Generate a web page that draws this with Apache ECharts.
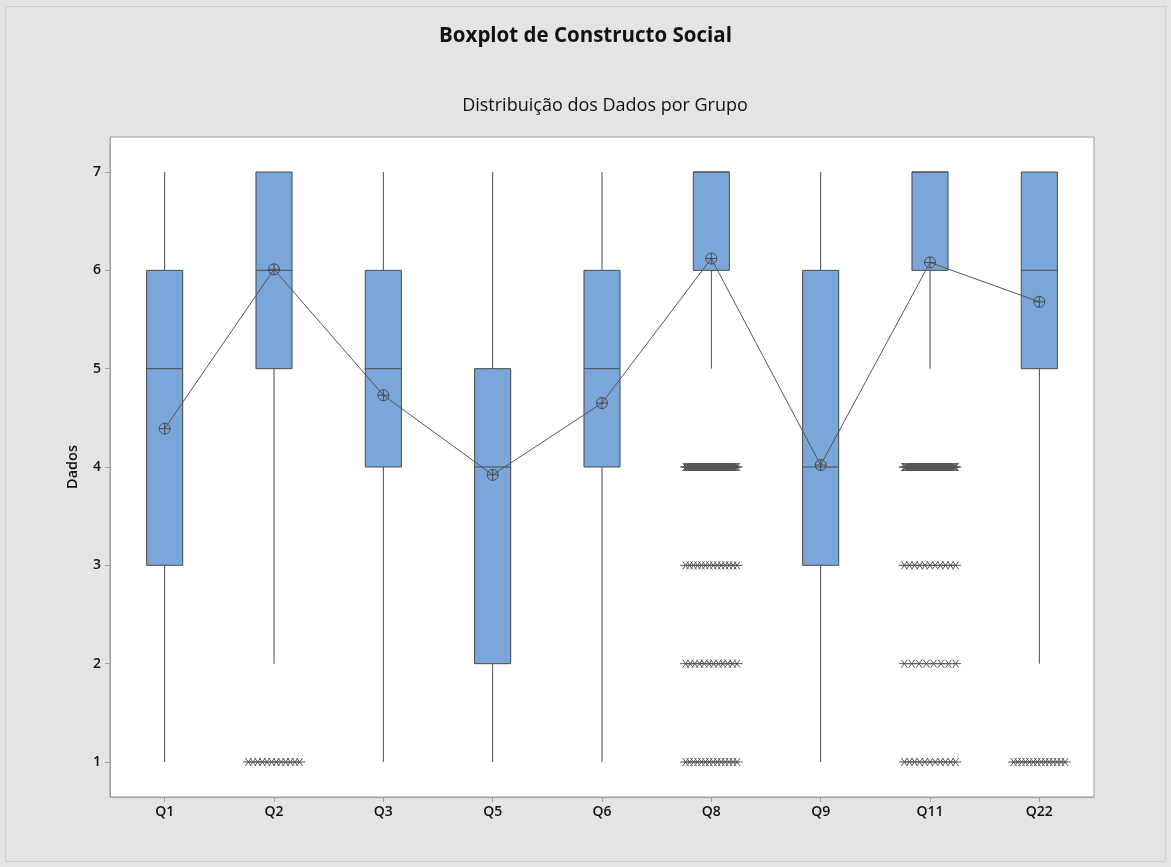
<!DOCTYPE html>
<html>
<head>
<meta charset="utf-8">
<script src="https://cdn.jsdelivr.net/npm/echarts@6/dist/echarts.min.js"></script>
<style>
  html, body { margin: 0; padding: 0; background: #e4e4e4; }
  #chart { width: 1171px; height: 867px; }
</style>
</head>
<body>
<div id="chart"></div>
<script>
// Groups on the x axis
const categories = ['Q1', 'Q2', 'Q3', 'Q5', 'Q6', 'Q8', 'Q9', 'Q11', 'Q22'];

// Five-number summaries per group: lower whisker, Q1, median, Q3, upper whisker
const whiskerLow  = [1, 2, 1, 1, 1, 5, 1, 5, 2];
const quartile1   = [3, 5, 4, 2, 4, 6, 3, 6, 5];
const medians     = [5, 6, 5, 4, 5, 7, 4, 7, 6];
const quartile3   = [6, 7, 6, 5, 6, 7, 6, 7, 7];
const whiskerHigh = [7, 7, 7, 7, 7, 7, 7, 7, 7];

// Group means (connected by the mean line)
const means = [4.39, 6.01, 4.73, 3.92, 4.65, 6.12, 4.02, 6.08, 5.68];

// Outliers: group index, value and how many tied observations sit at that value
const outlierGroup = [1, 5, 5, 5, 5, 7, 7, 7, 7, 8];
const outlierValue = [1, 4, 3, 2, 1, 4, 3, 2, 1, 1];
const outlierCount = [12, 60, 14, 12, 14, 60, 11, 8, 11, 14];

// Y axis ticks
const yTicks = [1, 2, 3, 4, 5, 6, 7];

const fontFamily = '"Open Sans", "Noto Sans", sans-serif';
const boxColor = '#7ba6da';
const edgeColor = '#4a4a4a';

const boxData = categories.map((c, i) => [i, whiskerLow[i], quartile1[i], medians[i], quartile3[i], whiskerHigh[i]]);
const meanData = categories.map((c, i) => [i, means[i]]);
const outlierData = outlierGroup.map((g, i) => [g, outlierValue[i], outlierCount[i]]);

function renderBox(params, api) {
  const x = api.value(0);
  const pLow = api.coord([x, api.value(1)]);
  const pQ1 = api.coord([x, api.value(2)]);
  const pMed = api.coord([x, api.value(3)]);
  const pQ3 = api.coord([x, api.value(4)]);
  const pHigh = api.coord([x, api.value(5)]);
  const band = api.size([1, 0])[0];
  const w = band * 0.33;
  const cx = pQ1[0];
  const children = [];
  const lineStyle = { stroke: edgeColor, lineWidth: 1, fill: null };
  if (pLow[1] !== pQ1[1]) {
    children.push({ type: 'line', shape: { x1: cx, y1: pQ1[1], x2: cx, y2: pLow[1] }, style: lineStyle });
  }
  if (pHigh[1] !== pQ3[1]) {
    children.push({ type: 'line', shape: { x1: cx, y1: pQ3[1], x2: cx, y2: pHigh[1] }, style: lineStyle });
  }
  children.push({
    type: 'rect',
    shape: { x: cx - w / 2, y: pQ3[1], width: w, height: pQ1[1] - pQ3[1] },
    style: { fill: boxColor, stroke: edgeColor, lineWidth: 1 }
  });
  children.push({ type: 'line', shape: { x1: cx - w / 2, y1: pMed[1], x2: cx + w / 2, y2: pMed[1] }, style: lineStyle });
  return { type: 'group', children };
}

// A row of tied outliers drawn as asterisk glyphs spread across the group
function renderOutliers(params, api) {
  const x = api.value(0);
  const p = api.coord([x, api.value(1)]);
  const n = api.value(2);
  const band = api.size([1, 0])[0];
  const spread = band * 0.47;
  const children = [];
  const r = 4;
  for (let k = 0; k < n; k++) {
    const gx = p[0] - spread / 2 + (n > 1 ? spread * k / (n - 1) : spread / 2);
    const gy = p[1];
    children.push({
      type: 'line',
      shape: { x1: gx - r - 1.5, y1: gy, x2: gx + r + 1.5, y2: gy },
      style: { stroke: '#555', lineWidth: 1 }
    });
    children.push({
      type: 'line',
      shape: { x1: gx - r * 0.75, y1: gy - r, x2: gx + r * 0.75, y2: gy + r },
      style: { stroke: '#555', lineWidth: 1 }
    });
    children.push({
      type: 'line',
      shape: { x1: gx - r * 0.75, y1: gy + r, x2: gx + r * 0.75, y2: gy - r },
      style: { stroke: '#555', lineWidth: 1 }
    });
  }
  return { type: 'group', children };
}

// Mean marker: circle with crosshair
function renderMean(params, api) {
  const p = api.coord([api.value(0), api.value(1)]);
  const r = 5.5;
  const st = { stroke: '#4a4a4a', lineWidth: 1, fill: null };
  return {
    type: 'group',
    children: [
      { type: 'circle', shape: { cx: p[0], cy: p[1], r }, style: st },
      { type: 'line', shape: { x1: p[0] - r, y1: p[1], x2: p[0] + r, y2: p[1] }, style: st },
      { type: 'line', shape: { x1: p[0], y1: p[1] - r, x2: p[0], y2: p[1] + r }, style: st }
    ]
  };
}

const chart = echarts.init(document.getElementById('chart'), null, { renderer: 'canvas' });
chart.setOption({
  backgroundColor: '#e4e4e4',
  animation: false,
  title: [
    {
      text: 'Boxplot de Constructo Social',
      left: 'center', top: 21,
      textStyle: { fontFamily, fontSize: 20.5, fontWeight: 'bold', color: '#111' }
    },
    {
      text: 'Distribuição dos Dados por Grupo',
      left: 600, top: 92, textAlign: 'center',
      textStyle: { fontFamily, fontSize: 18, fontWeight: 'normal', color: '#111' }
    }
  ],
  graphic: [
    {
      type: 'rect', z: -1,
      shape: { x: 5.5, y: 6.5, width: 1160, height: 855 },
      style: { fill: null, stroke: '#cfcfcf', lineWidth: 1 }
    }
  ],
  grid: {
    left: 110, right: 77, top: 137, bottom: 70,
    show: true, backgroundColor: '#ffffff', borderColor: '#a0a0a0', borderWidth: 1
  },
  xAxis: {
    type: 'category',
    data: categories,
    boundaryGap: true,
    axisLine: { show: true, lineStyle: { color: '#a0a0a0' } },
    axisTick: { show: true, alignWithLabel: true, length: 5, lineStyle: { color: '#a0a0a0' } },
    axisLabel: { fontFamily, fontSize: 14, fontWeight: 600, color: '#111', margin: 8 },
    splitLine: { show: false }
  },
  yAxis: {
    type: 'value',
    min: 0.644, max: 7.356,
    name: 'Dados',
    nameLocation: 'middle',
    nameGap: 30,
    nameRotate: 90,
    nameTextStyle: { fontFamily, fontSize: 14.5, fontWeight: 600, color: '#111' },
    axisLine: { show: true, lineStyle: { color: '#a0a0a0' } },
    axisTick: { show: true, length: 5, customValues: yTicks, lineStyle: { color: '#a0a0a0' } },
    axisLabel: { fontFamily, fontSize: 14, fontWeight: 600, color: '#111', margin: 9, customValues: yTicks },
    splitLine: { show: false }
  },
  series: [
    {
      type: 'custom',
      renderItem: renderBox,
      data: boxData,
      encode: { x: 0, y: [1, 2, 3, 4, 5] },
      z: 2
    },
    {
      type: 'custom',
      renderItem: renderOutliers,
      data: outlierData,
      encode: { x: 0, y: 1 },
      z: 3
    },
    {
      type: 'line',
      data: meanData,
      symbol: 'none',
      lineStyle: { color: '#555', width: 1 },
      z: 4
    },
    {
      type: 'custom',
      renderItem: renderMean,
      data: meanData,
      encode: { x: 0, y: 1 },
      z: 5
    }
  ]
});
</script>
</body>
</html>
